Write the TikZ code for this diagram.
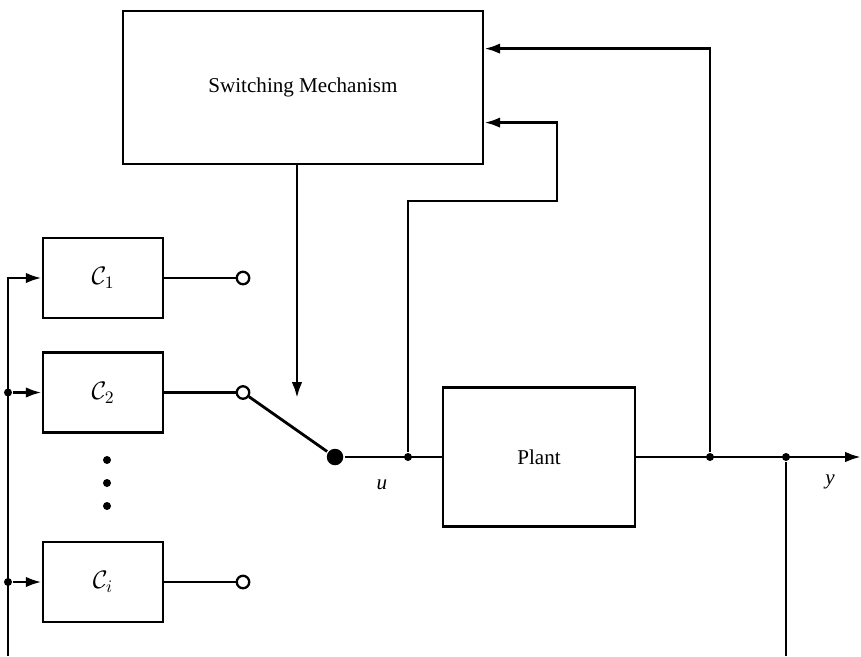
\documentclass[tikz,border=0pt]{standalone}
\usepackage{amsmath}
\usepackage{fontspec}
\setmainfont{Liberation Serif}
\usetikzlibrary{arrows.meta, positioning}

\begin{document}
\begin{tikzpicture}[x=0.02cm, y=-0.02cm, line width=1.6pt, font=\fontsize{12}{14}\selectfont,
   >={Latex[length=9pt, width=6pt]},
   block/.style={draw, inner sep=0pt},
   ctrl/.style={block, minimum width=2.4cm, minimum height=1.6cm, font=\fontsize{14}{16}\selectfont},
   port/.style={circle, draw, fill=white, inner sep=0pt, minimum size=0.25cm, line width=1.3pt},
   pole/.style={circle, fill, inner sep=0pt, minimum size=0.33cm},
   dot/.style={circle, fill, inner sep=0pt, minimum size=0.16cm}]
   \useasboundingbox (0,0) rectangle (861,656);
   \node[block, minimum width=7.2cm, minimum height=3.06cm] (sm) at (303,87.5) {Switching Mechanism};
   \node[block, minimum width=3.84cm, minimum height=2.78cm] (plant) at (539,457) {Plant};
   \node[ctrl] (c1) at (103,278) {$\mathcal{C}_1$};
   \node[ctrl] (c2) at (103,392.5) {$\mathcal{C}_2$};
   \node[ctrl] (ci) at (103,582) {$\mathcal{C}_i$};
   \node[port] (p1) at (243,278) {};
   \node[port] (p2) at (243,392.5) {};
   \node[port] (pi) at (243,582) {};
   \node[pole] (pole) at (335,457) {};
   \node[dot] (ju) at (408,457) {};
   \node[dot] (jy1) at (710,457) {};
   \node[dot] (jy2) at (786,457) {};
   \node[dot] (b2) at (8,392.5) {};
   \node[dot] (bi) at (8,582) {};
   \foreach \yy in {460,483,506} \node[dot] at (107,\yy) {};
   \coordinate (busbot) at (8,656);
   \coordinate (out) at (861,457);
   \coordinate (ybot) at (786,656);
   \coordinate (fb) at (557,201);
   \coordinate (sw) at (297,398);
   \coordinate (in1) at ([yshift=-0.78cm]sm.north east);
   \coordinate (in2) at ([yshift=-2.26cm]sm.north east);
   \draw (c1) -- (p1);
   \draw (c2) -- (p2);
   \draw (ci) -- (pi);
   \draw (p2) -- (pole);
   \draw (pole) -- (plant.west |- pole);
   \draw[->] (plant.east |- pole) -- (out);
   \draw[->] (sm.south -| sw) -- (sw);
   \draw[->] (busbot) |- (c1.west);
   \draw[->] (b2) -- (c2.west);
   \draw[->] (bi) -- (ci.west);
   \draw[->] (ju) |- (fb) |- (in2);
   \draw[->] (jy1) |- (in1);
   \draw (jy2) -- (ybot);
   \node (ulabel) at (382,485) {\textit{u}};
   \node (ylabel) at (830,482) {\textit{y}};
\end{tikzpicture}
\end{document}
